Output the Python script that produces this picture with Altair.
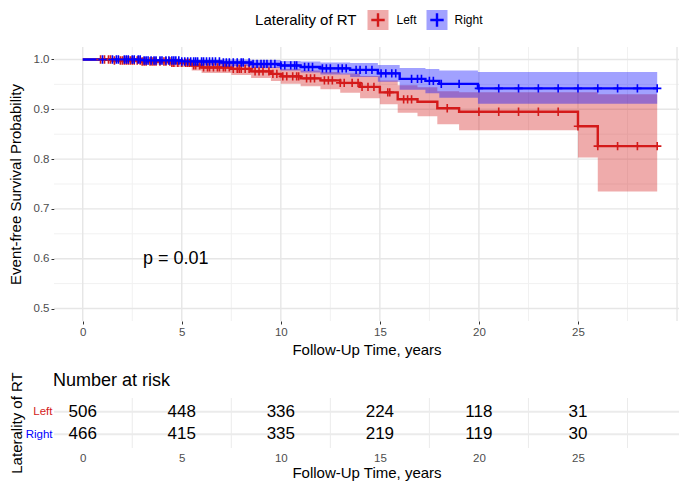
import altair as alt
import pandas as pd
from bisect import bisect_right

FONT = "Liberation Sans"
groups = ["Left", "Right"]
colors = ["#D41A1A", "#0000FF"]

# Kaplan-Meier steps
left_time = [0, 1.5, 3.0, 4.5, 5.5, 6.0, 7.5, 8.5, 9.5, 10.0, 11.0, 12.0, 13.0, 14.0, 15.0, 15.9, 16.9, 17.9, 19.0, 25.0, 26.0, 29.0]
left_surv = [1.0, 0.998, 0.996, 0.993, 0.988, 0.984, 0.981, 0.976, 0.971, 0.966, 0.962, 0.958, 0.953, 0.945, 0.934, 0.920, 0.915, 0.902, 0.895, 0.866, 0.826, 0.826]
left_lower = [1.0, 0.994, 0.990, 0.985, 0.978, 0.973, 0.969, 0.963, 0.957, 0.951, 0.946, 0.940, 0.933, 0.922, 0.910, 0.893, 0.886, 0.870, 0.858, 0.803, 0.735, 0.735]
left_upper = [1.0, 1.0, 1.0, 1.0, 0.998, 0.995, 0.993, 0.989, 0.985, 0.981, 0.978, 0.975, 0.972, 0.967, 0.958, 0.948, 0.944, 0.936, 0.934, 0.934, 0.930, 0.930]

right_time = [0, 3.0, 5.0, 7.0, 8.5, 10.0, 11.0, 12.0, 13.5, 14.9, 16.0, 17.3, 18.0, 19.95, 29.0]
right_surv = [1.0, 0.998, 0.996, 0.994, 0.991, 0.988, 0.985, 0.982, 0.979, 0.972, 0.961, 0.957, 0.951, 0.942, 0.942]
right_lower = [1.0, 0.994, 0.990, 0.987, 0.983, 0.978, 0.974, 0.970, 0.965, 0.955, 0.939, 0.932, 0.923, 0.911, 0.911]
right_upper = [1.0, 1.0, 1.0, 1.0, 0.999, 0.997, 0.996, 0.994, 0.993, 0.989, 0.983, 0.981, 0.978, 0.975, 0.975]

left_censor = [0.9, 1.1, 1.3, 1.4, 1.6, 1.9, 2.0, 2.1, 2.2, 2.3, 2.4, 2.5, 2.6, 2.75, 2.9, 3.0, 3.1, 3.2, 3.4, 3.5,
               3.6, 3.7, 3.9, 4.1, 4.2, 4.4, 4.5, 4.6, 4.8, 5.0, 5.2, 5.3, 5.4, 5.6, 5.7, 5.9, 6.1, 6.3, 6.4, 6.6,
               6.8, 6.9, 7.1, 7.2, 7.4, 7.6, 7.8, 7.9, 8.0, 8.2, 8.4, 8.7, 8.9, 9.1, 9.4, 9.6, 9.8, 10.1, 10.3,
               10.6, 10.8, 10.9, 11.3, 11.5, 11.7, 12.2, 12.4, 12.6, 13.0, 13.2, 13.6, 13.9, 14.1, 14.4, 14.7,
               15.4, 15.5, 16.2, 16.4, 16.6, 18.4, 20, 21, 22, 23, 24, 25, 26, 27, 28, 29]
right_censor = [1.0, 1.5, 1.7, 1.8, 2.1, 2.2, 2.3, 2.5, 2.6, 2.8, 2.9, 3.1, 3.2, 3.3, 3.45, 3.6, 3.7, 3.9, 4.0, 4.2,
                4.35, 4.5, 4.6, 4.7, 4.85, 5.0, 5.15, 5.3, 5.45, 5.6, 5.7, 5.8, 6.0, 6.1, 6.25, 6.4, 6.55, 6.7,
                6.9, 7.1, 7.25, 7.4, 7.6, 7.8, 8.0, 8.1, 8.4, 8.6, 8.8, 9.0, 9.15, 9.3, 9.5, 9.7, 10.0, 10.2,
                10.5, 10.7, 10.8, 11.2, 11.4, 11.6, 12.1, 12.3, 12.5, 12.9, 13.1, 13.3, 13.8, 14.0, 14.3, 14.6,
                15.06, 15.3, 15.6, 15.8, 16.6, 16.9, 17.1, 17.5, 17.7, 18.1, 19.0, 20, 21, 22, 23, 24, 25, 26,
                27, 28, 29]

risk_times = [0, 5, 10, 15, 20, 25]
risk_left = [506, 448, 336, 224, 118, 31]
risk_right = [466, 415, 335, 219, 119, 30]

pval_text = ["p = 0.01"]
pval_x = [4.7]
pval_y = [0.6]

x_major = [0, 5, 10, 15, 20, 25, 30]
x_minor = [2.5, 7.5, 12.5, 17.5, 22.5, 27.5]
y_major = [0.5, 0.6, 0.7, 0.8, 0.9, 1.0]
y_minor = [0.55, 0.65, 0.75, 0.85, 0.95]
x_labels = [0, 5, 10, 15, 20, 25]

# ---- tables ----
steps = pd.concat([
    pd.DataFrame({"group": "Left", "time": left_time, "surv": left_surv, "lower": left_lower, "upper": left_upper}),
    pd.DataFrame({"group": "Right", "time": right_time, "surv": right_surv, "lower": right_lower, "upper": right_upper}),
])


def lookup(times, survs, t):
    return survs[bisect_right(times, t) - 1]


cens = pd.concat([
    pd.DataFrame({"group": "Left", "time": left_censor, "surv": [lookup(left_time, left_surv, t) for t in left_censor]}),
    pd.DataFrame({"group": "Right", "time": right_censor, "surv": [lookup(right_time, right_surv, t) for t in right_censor]}),
])
risk = pd.concat([
    pd.DataFrame({"group": "Left", "time": risk_times, "n": risk_left}),
    pd.DataFrame({"group": "Right", "time": risk_times, "n": risk_right}),
])
pval = pd.DataFrame({"t": pval_text, "x": pval_x, "y": pval_y})

W = 625
H = 274
RH = 50

x_scale = alt.Scale(domain=[-1.45, 30.1], nice=False, zero=False)
y_scale = alt.Scale(domain=[0.475, 1.025], nice=False, zero=False)
color_scale = alt.Scale(domain=groups, range=colors)

x_axis = alt.Axis(values=x_labels, title="Follow-Up Time, years", grid=False, domain=False,
                  tickColor="#333333", tickSize=3, labelColor="#4D4D4D", labelFontSize=11.5,
                  labelPadding=2, titleFontSize=15, titlePadding=5)
y_axis = alt.Axis(values=y_major, format=".1f", title="Event-free Survival Probability", grid=False,
                  domain=False, tickColor="#333333", tickSize=3, labelColor="#4D4D4D",
                  labelFontSize=11.5, labelPadding=2, titleFontSize=15, titlePadding=10)

X = lambda f: alt.X(f, scale=x_scale, axis=x_axis)
Y = lambda f: alt.Y(f, scale=y_scale, axis=y_axis)

gx_minor = alt.Chart(pd.DataFrame({"v": x_minor})).mark_rule(color="#F1F1F1", strokeWidth=1).encode(x=X("v:Q"))
gx_major = alt.Chart(pd.DataFrame({"v": x_major})).mark_rule(color="#E6E6E6", strokeWidth=1.4).encode(x=X("v:Q"))
gy_minor = alt.Chart(pd.DataFrame({"v": y_minor})).mark_rule(color="#F1F1F1", strokeWidth=1).encode(y=Y("v:Q"))
gy_major = alt.Chart(pd.DataFrame({"v": y_major})).mark_rule(color="#E6E6E6", strokeWidth=1.4).encode(y=Y("v:Q"))

band = alt.Chart(steps).mark_area(interpolate="step-after", opacity=0.37).encode(
    x=X("time:Q"), y=Y("lower:Q"), y2="upper:Q",
    color=alt.Color("group:N", scale=color_scale, legend=None))
line = alt.Chart(steps).mark_line(interpolate="step-after", strokeWidth=2.4).encode(
    x=X("time:Q"), y=Y("surv:Q"),
    color=alt.Color("group:N", scale=color_scale, legend=None))
plus = "M-1,0H1M0,-1V1"
cmarks = alt.Chart(cens).mark_point(shape=plus, size=70, strokeWidth=1.6, filled=False, opacity=1).encode(
    x=X("time:Q"), y=Y("surv:Q"),
    color=alt.Color("group:N", scale=color_scale, legend=None))
ptext = alt.Chart(pval).mark_text(fontSize=18, align="center", baseline="middle", color="black").encode(
    x=X("x:Q"), y=Y("y:Q"), text="t:N")

main = alt.layer(gx_minor, gy_minor, gx_major, gy_major, band, line, cmarks, ptext).properties(width=W, height=H)

# ---- legend ----
one = pd.DataFrame({"a": [0]})
leg_title = alt.Chart(one).mark_text(text="Laterality of RT", align="right", baseline="middle", fontSize=15,
                                     color="black").encode(x=alt.value(302.5), y=alt.value(10))
box_l = alt.Chart(one).mark_rect(color=colors[0], opacity=0.37).encode(
    x=alt.value(313.5), x2=alt.value(334.5), y=alt.value(0), y2=alt.value(20))
plus_l = alt.Chart(one).mark_point(shape=plus, size=180, strokeWidth=2.4, filled=False, color=colors[0], opacity=1).encode(
    x=alt.value(324), y=alt.value(10))
txt_l = alt.Chart(one).mark_text(text="Left", align="left", baseline="middle", fontSize=12, color="black").encode(
    x=alt.value(342.5), y=alt.value(10))
box_r = alt.Chart(one).mark_rect(color=colors[1], opacity=0.37).encode(
    x=alt.value(372.5), x2=alt.value(393.5), y=alt.value(0), y2=alt.value(20))
plus_r = alt.Chart(one).mark_point(shape=plus, size=180, strokeWidth=2.4, filled=False, color=colors[1], opacity=1).encode(
    x=alt.value(383), y=alt.value(10))
txt_r = alt.Chart(one).mark_text(text="Right", align="left", baseline="middle", fontSize=12, color="black").encode(
    x=alt.value(400.5), y=alt.value(10))
legend = alt.layer(leg_title, box_l, plus_l, txt_l, box_r, plus_r, txt_r).properties(width=W, height=20)

# ---- risk table ----
rx_scale = alt.Scale(domain=[-1.45, 30.1], nice=False, zero=False)
ry_scale = alt.Scale(domain=groups, type="point", padding=0.6)
rx_axis = alt.Axis(values=x_labels, title="Follow-Up Time, years", grid=False, domain=False, ticks=False,
                   labelColor="#4D4D4D", labelFontSize=11.5, labelPadding=4, titleFontSize=15, titlePadding=2)
ry_axis = alt.Axis(title=None, grid=False, domain=False, ticks=False, labelFontSize=11.5, labelPadding=2,
                   labelColor={"condition": {"test": "datum.value == 'Left'", "value": colors[0]}, "value": colors[1]})
RX = lambda f: alt.X(f, scale=rx_scale, axis=rx_axis)
RY = lambda f: alt.Y(f, scale=ry_scale, axis=ry_axis, sort=groups)

r_vgrid = alt.Chart(pd.DataFrame({"v": x_minor})).mark_rule(color="#EBEBEB", strokeWidth=1).encode(x=RX("v:Q"))
r_hgrid = alt.Chart(pd.DataFrame({"g": groups})).mark_rule(color="#EBEBEB", strokeWidth=2).encode(y=RY("g:N"))
r_text = alt.Chart(risk).mark_text(fontSize=17, align="center", baseline="middle", color="black").encode(
    x=RX("time:Q"), y=RY("group:N"), text="n:Q")
r_title = alt.Chart(one).mark_text(text="Number at risk", align="left", baseline="middle", fontSize=18,
                                   color="black").encode(x=alt.value(-1), y=alt.value(-17))
r_ytitle = alt.Chart(one).mark_text(text="Laterality of RT", align="center", baseline="middle", fontSize=15,
                                    angle=270, color="black").encode(x=alt.value(-37.5), y=alt.value(RH / 2))
risk_chart = alt.layer(r_vgrid, r_hgrid, r_text, r_title, r_ytitle).properties(width=W, height=RH)

chart = alt.vconcat(legend, main, risk_chart, spacing=14).properties(
    padding={"left": 0, "top": 0, "right": 0, "bottom": 0}).configure(font=FONT).configure_view(
    strokeWidth=0, stroke="transparent").configure_axis(
    labelFont=FONT, titleFont=FONT, titleFontWeight="normal", titleColor="black").configure_text(font=FONT)

chart.save("out.html", embed_options={"renderer": "svg", "actions": False})
